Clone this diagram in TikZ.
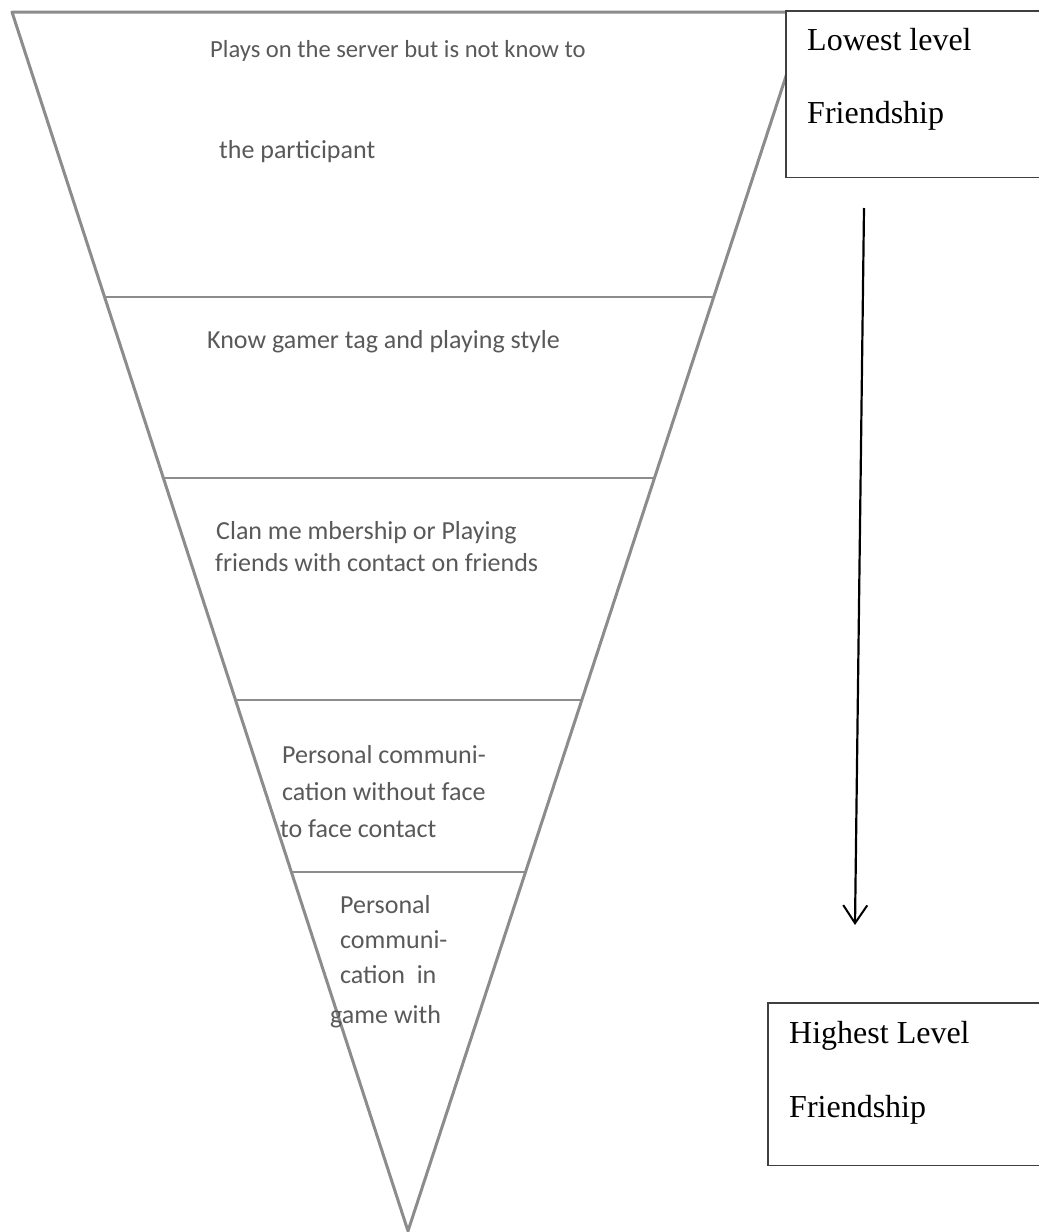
\documentclass[tikz,border=0pt]{standalone}
\usepackage{fontspec}
\setmainfont{Liberation Serif}
\newfontfamily\calfont{Carlito}
\usetikzlibrary{arrows.meta,calc}
\tikzset{
  side/.style={draw=black!45, line width=3pt, line join=round},
  divider/.style={draw=black!45, line width=2.4pt},
  cone text/.style={anchor=base west, inner sep=0pt, text=black!65, font=\calfont\fontsize{26}{30}\selectfont},
  level text/.style={anchor=base west, inner sep=0pt, font=\fontsize{32}{38}\selectfont},
  level box/.style={fill=white, anchor=north west, inner sep=0pt},
  level line/.style={draw=black!75, line width=1.6pt}
}
\begin{document}
\begin{tikzpicture}[x=1pt,y=-1pt]
    \useasboundingbox (0,0) rectangle (1039,1232);
    % corners of the cone
    \coordinate (L) at (12,12);
    \coordinate (R) at (807,12);
    \coordinate (A) at (408,1231);
    \draw[side] (A) -- (L) -- (R) -- cycle;
    % dividers from top to down
    \foreach \t in {0.2338,0.3823,0.5644,0.7055}
        \draw[divider] ($(L)!\t!(A)$) -- ($(R)!\t!(A)$);

    % texts in the cone
    \node[cone text, font=\calfont\fontsize{24.6}{30}\selectfont] (serverone) at (210,57) {Plays on the server but is not know to};
    \node[cone text] (servertwo) at (219,158) {the participant};
    \node[cone text] (tag) at (207,348) {Know gamer tag and playing style};
    \node[cone text] (clanone) at (216,539) {Clan me mbership or Playing};
    \node[cone text] (clantwo) at (215,571) {friends with contact on friends};
    \node[cone text] (faceone) at (282,763) {Personal communi-};
    \node[cone text] (facetwo) at (282,800) {cation without face};
    \node[cone text] (facethree) at (280,837) {to face contact};
    \node[cone text] (gameone) at (340,913) {Personal};
    \node[cone text] (gametwo) at (340,948) {communi-};
    \node[cone text] (gamethree) at (340,983) {cation~ in};
    \node[cone text] (gamefour) at (330,1023) {game with};

    % level boxes
    \node[level box, minimum width=253, minimum height=166] (lowbox) at (786,11) {};
    \draw[level line] (lowbox.north east) -- (lowbox.north west) -- (lowbox.south west) -- (lowbox.south east);
    \node[level text] (lowone) at (807,50) {Lowest level};
    \node[level text] (lowtwo) at (807,123) {Friendship};

    \node[level box, minimum width=271, minimum height=162] (highbox) at (768,1003) {};
    \draw[level line] (highbox.north east) -- (highbox.north west) -- (highbox.south west) -- (highbox.south east);
    \node[level text] (highone) at (789,1043) {Highest Level};
    \node[level text] (hightwo) at (789,1117) {Friendship};

    % arrow from lowest to highest
    \coordinate (arrtop) at (864,208);
    \coordinate (arrtip) at (855,925);
    \draw[line width=2.2pt, -{Straight Barb[length=18pt,width=24pt,line width=2pt]}] (arrtop) -- (arrtip);
\end{tikzpicture}
\end{document}
